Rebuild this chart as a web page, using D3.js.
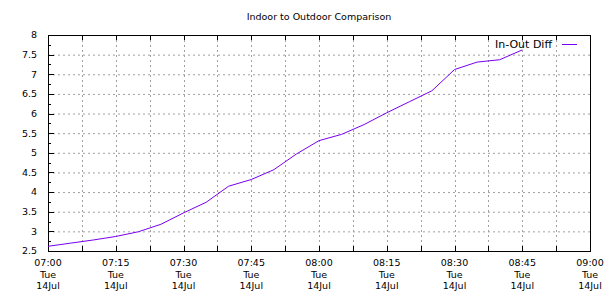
<!DOCTYPE html>
<html>
<head>
<meta charset="utf-8">
<script src="https://cdn.jsdelivr.net/npm/d3@7"></script>
<style>
  body { margin: 0; background: #fff; }
  text { font-family: "DejaVu Sans", sans-serif; font-size: 9.5px; fill: #000; }
</style>
</head>
<body>
<div id="root"></div>
<script>
// readings (time, in-out difference)
const times = ["07:00", "07:05", "07:10", "07:15", "07:20", "07:25", "07:30", "07:35",
  "07:40", "07:45", "07:50", "07:55", "08:00", "08:05", "08:10", "08:15",
  "08:20", "08:25", "08:30", "08:35", "08:40", "08:45"]
const diffValues = [2.62, 2.70, 2.78, 2.87, 2.99, 3.18, 3.47, 3.74,
  4.15, 4.32, 4.57, 4.97, 5.31, 5.47, 5.72, 6.02,
  6.30, 6.58, 7.12, 7.31, 7.37, 7.62]
const yTickValues = [2.5, 3, 3.5, 4, 4.5, 5, 5.5, 6, 6.5, 7, 7.5, 8]
const xTickLabels = ["07:00", "07:15", "07:30", "07:45", "08:00", "08:15", "08:30", "08:45", "09:00"]
const dayLabel = "Tue"
const dateLabel = "14Jul"
const chartTitle = "Indoor to Outdoor Comparison"
const seriesName = "In-Out Diff"

const parseTime = d3.timeParse("%H:%M")
const data = times.map((t, i) => ({ date: parseTime(t), value: diffValues[i] }))

const width = 610, height = 300
const margin = { top: 35, right: 20, bottom: 49, left: 48 }
const boundedWidth = width - margin.left - margin.right
const boundedHeight = height - margin.top - margin.bottom

const svg = d3.select("#root").append("svg")
  .attr("width", width)
  .attr("height", height)

const bounds = svg.append("g")
  .attr("transform", `translate(${margin.left},${margin.top})`)

const xScale = d3.scaleTime()
  .domain([parseTime("07:00"), parseTime("09:00")])
  .range([0, boundedWidth])

const yScale = d3.scaleLinear()
  .domain([2.5, 8])
  .range([boundedHeight, 0])

const gridColor = "#a0a0a0"
// 7.5 minute grid
const xGrid = d3.range(0, 121, 7.5).map(m => new Date(parseTime("07:00").getTime() + m * 60000))

// grid
bounds.append("g").selectAll("line")
  .data(yTickValues.slice(1, -1))
  .join("line")
  .attr("x1", 0).attr("x2", boundedWidth)
  .attr("y1", d => yScale(d) + 0.5).attr("y2", d => yScale(d) + 0.5)
  .attr("stroke", gridColor)
  .attr("stroke-dasharray", "2,3")

bounds.append("g").selectAll("line")
  .data(xGrid.slice(1, -1))
  .join("line")
  .attr("x1", d => Math.round(xScale(d)) + 0.5).attr("x2", d => Math.round(xScale(d)) + 0.5)
  .attr("y1", 0).attr("y2", boundedHeight)
  .attr("stroke", gridColor)
  .attr("stroke-dasharray", "2,3")

// ticks on left (major + minor)
const yMinor = d3.range(2.75, 8, 0.5)
bounds.append("g").selectAll("line")
  .data(yTickValues)
  .join("line")
  .attr("x1", 0).attr("x2", 6)
  .attr("y1", d => Math.round(yScale(d)) + 0.5).attr("y2", d => Math.round(yScale(d)) + 0.5)
  .attr("stroke", "#000")
bounds.append("g").selectAll("line")
  .data(yMinor)
  .join("line")
  .attr("x1", 0).attr("x2", 3)
  .attr("y1", d => Math.round(yScale(d)) + 0.5).attr("y2", d => Math.round(yScale(d)) + 0.5)
  .attr("stroke", "#000")

// ticks on bottom and top
bounds.append("g").selectAll("line")
  .data(xGrid)
  .join("line")
  .attr("x1", d => Math.round(xScale(d)) + 0.5).attr("x2", d => Math.round(xScale(d)) + 0.5)
  .attr("y1", boundedHeight).attr("y2", boundedHeight - 5)
  .attr("stroke", "#000")
bounds.append("g").selectAll("line")
  .data(xGrid)
  .join("line")
  .attr("x1", d => Math.round(xScale(d)) + 0.5).attr("x2", d => Math.round(xScale(d)) + 0.5)
  .attr("y1", 0).attr("y2", 5)
  .attr("stroke", "#000")

// frame
bounds.append("rect")
  .attr("x", 0.5).attr("y", 0.5)
  .attr("width", boundedWidth).attr("height", boundedHeight)
  .attr("fill", "none")
  .attr("stroke", "#000")

// y labels
bounds.append("g").selectAll("text")
  .data(yTickValues)
  .join("text")
  .attr("x", -11)
  .attr("y", d => yScale(d))
  .attr("dy", "0.35em")
  .attr("text-anchor", "end")
  .text(d => d)

// x labels
const xLabels = bounds.append("g").selectAll("text")
  .data(xTickLabels)
  .join("text")
  .attr("text-anchor", "middle")
  .attr("transform", d => `translate(${xScale(parseTime(d))},${boundedHeight + 15})`)
xLabels.append("tspan").attr("x", 0).attr("y", 0).text(d => d)
xLabels.append("tspan").attr("x", 0).attr("y", 11.5).text(dayLabel)
xLabels.append("tspan").attr("x", 0).attr("y", 23).text(dateLabel)

// line
const lineColor = "#7800f0"
const lineGenerator = d3.line()
  .x(d => xScale(d.date))
  .y(d => yScale(d.value))

bounds.append("path")
  .datum(data)
  .attr("d", lineGenerator)
  .attr("fill", "none")
  .attr("stroke", lineColor)
  .attr("stroke-width", 1)

// legend
const legend = bounds.append("g")
  .attr("transform", `translate(${boundedWidth - 13},9)`)
legend.append("line")
  .attr("x1", 0).attr("x2", -15)
  .attr("y1", 0.5).attr("y2", 0.5)
  .attr("stroke", lineColor)
legend.append("text")
  .attr("x", -25)
  .attr("y", 0)
  .attr("dy", "0.35em")
  .attr("text-anchor", "end")
  .style("font-size", "11px")
  .text(seriesName)

// title
svg.append("text")
  .attr("x", margin.left + boundedWidth / 2)
  .attr("y", 17)
  .attr("dy", "0.35em")
  .attr("text-anchor", "middle")
  .text(chartTitle)
</script>
</body>
</html>
